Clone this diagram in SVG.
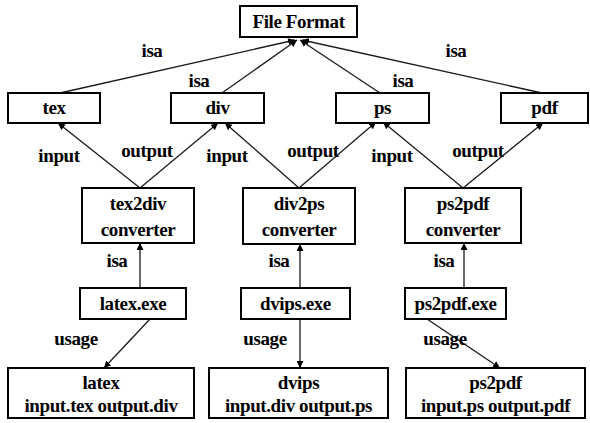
<svg xmlns="http://www.w3.org/2000/svg" width="590" height="423" viewBox="0 0 590 423">
<defs>
<style>
.box{fill:#fff;stroke:#000;stroke-width:2}
.t{font-family:'Liberation Serif','Times New Roman',serif;font-weight:bold;font-size:19px;text-anchor:middle;fill:#000;letter-spacing:-0.4px}
.c{stroke:#1a1a1a;stroke-width:1.3;fill:none;marker-end:url(#ah)}
</style>
<marker id="ah" viewBox="0 0 10 10" refX="10" refY="5" markerWidth="7" markerHeight="7" markerUnits="userSpaceOnUse" orient="auto">
<path d="M0,0L10,5L0,10z" fill="#000"/>
</marker>
</defs>
<rect width="590" height="423" fill="#fff"/>
<g id="connectors">
<line class="c" x1="60" y1="93" x2="295" y2="40"/>
<line class="c" x1="222" y1="93" x2="297" y2="40"/>
<line class="c" x1="380" y1="93" x2="300" y2="40"/>
<line class="c" x1="542" y1="93" x2="302" y2="40"/>
<line class="c" x1="140" y1="188" x2="58" y2="123"/>
<line class="c" x1="140" y1="188" x2="218" y2="123"/>
<line class="c" x1="299" y1="188" x2="225" y2="123"/>
<line class="c" x1="299" y1="188" x2="376" y2="122"/>
<line class="c" x1="463" y1="188" x2="383" y2="122"/>
<line class="c" x1="463" y1="188" x2="543" y2="123"/>
<line class="c" x1="140" y1="288" x2="140" y2="243"/>
<line class="c" x1="300" y1="288" x2="300" y2="244"/>
<line class="c" x1="464" y1="288" x2="464" y2="243"/>
<line class="c" x1="150" y1="319" x2="104" y2="368"/>
<line class="c" x1="300" y1="319" x2="300" y2="368"/>
<line class="c" x1="427" y1="319" x2="500" y2="368"/>
<text class="t" x="152" y="57">isa</text>
<text class="t" x="199" y="87">isa</text>
<text class="t" x="403" y="87">isa</text>
<text class="t" x="456" y="57">isa</text>
<text class="t" x="59" y="162">input</text>
<text class="t" x="147" y="157">output</text>
<text class="t" x="227" y="162">input</text>
<text class="t" x="313" y="157">output</text>
<text class="t" x="392" y="162">input</text>
<text class="t" x="478" y="157">output</text>
<text class="t" x="117" y="267">isa</text>
<text class="t" x="279" y="267">isa</text>
<text class="t" x="444" y="267">isa</text>
<text class="t" x="76" y="345">usage</text>
<text class="t" x="265" y="345">usage</text>
<text class="t" x="445" y="345">usage</text>
</g>
<g id="fileformat"><rect class="box" x="240" y="6" width="117" height="31"/><text class="t" x="298.5" y="28">File Format</text></g>
<g id="tex"><rect class="box" x="8" y="93" width="92" height="30"/><text class="t" x="54" y="114">tex</text></g>
<g id="div"><rect class="box" x="171" y="93" width="93" height="30"/><text class="t" x="217.5" y="114">div</text></g>
<g id="ps"><rect class="box" x="336" y="93" width="93" height="30"/><text class="t" x="382.5" y="114">ps</text></g>
<g id="pdf"><rect class="box" x="501" y="93" width="87" height="30"/><text class="t" x="544.5" y="114">pdf</text></g>
<g id="tex2div"><rect class="box" x="82" y="188" width="112" height="55"/><text class="t" x="138" y="210">tex2div</text><text class="t" x="138" y="236">converter</text></g>
<g id="div2ps"><rect class="box" x="243" y="188" width="112" height="56"/><text class="t" x="299" y="210">div2ps</text><text class="t" x="299" y="236">converter</text></g>
<g id="ps2pdf"><rect class="box" x="405" y="188" width="116" height="55"/><text class="t" x="463" y="210">ps2pdf</text><text class="t" x="463" y="236">converter</text></g>
<g id="latexexe"><rect class="box" x="80" y="288" width="106" height="31"/><text class="t" x="133" y="310">latex.exe</text></g>
<g id="dvipsexe"><rect class="box" x="241" y="288" width="109" height="31"/><text class="t" x="295.5" y="310">dvips.exe</text></g>
<g id="ps2pdfexe"><rect class="box" x="405" y="288" width="101" height="31"/><text class="t" x="455.5" y="310">ps2pdf.exe</text></g>
<g id="latex"><rect class="box" x="8" y="368" width="186" height="50"/><text class="t" x="101" y="389">latex</text><text class="t" x="101" y="412">input.tex output.div</text></g>
<g id="dvips"><rect class="box" x="209" y="368" width="179" height="50"/><text class="t" x="298.5" y="389">dvips</text><text class="t" x="298.5" y="412">input.div output.ps</text></g>
<g id="ps2pdfbox"><rect class="box" x="406" y="368" width="179" height="50"/><text class="t" x="495.5" y="389">ps2pdf</text><text class="t" x="495.5" y="412">input.ps output.pdf</text></g>
</svg>
